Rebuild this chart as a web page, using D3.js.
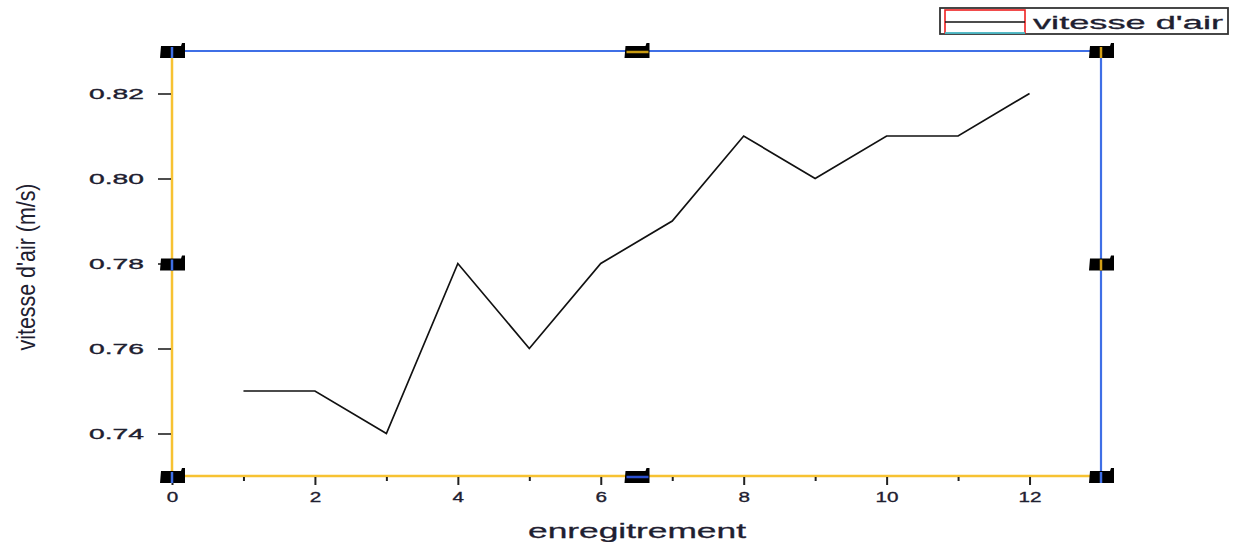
<!DOCTYPE html>
<html>
<head>
<meta charset="utf-8">
<script src="https://cdn.jsdelivr.net/npm/d3@7"></script>
<style>
  html, body { margin: 0; padding: 0; background: #fff; }
  svg { display: block; }
  text { font-family: "Liberation Sans", Arial, sans-serif; }
</style>
</head>
<body>
<svg id="chart" width="1238" height="542"></svg>
<script>
// Recorded air speed per measurement
const records = [1, 2, 3, 4, 5, 6, 7, 8, 9, 10, 11, 12];
const airSpeed = [0.75, 0.75, 0.74, 0.78, 0.76, 0.78, 0.79, 0.81, 0.80, 0.81, 0.81, 0.82];
const xTicks = [0, 2, 4, 6, 8, 10, 12];
const xMinorTicks = [1, 3, 5, 7, 9, 11];
const yTicks = [0.74, 0.76, 0.78, 0.80, 0.82];
const seriesName = "vitesse d'air";
const xTitle = "enregitrement";
const yTitle = "vitesse d'air (m/s)";

const svg = d3.select("#chart");
const plotLeft = 172, plotRight = 1101, plotTop = 51, plotBottom = 476;

const x = d3.scaleLinear().domain([0, 13]).range([plotLeft, plotRight]);
const y = d3.scaleLinear().domain([0.73, 0.83]).range([plotBottom, plotTop]);

const yellow = "#f7c232";
const blue = "#3f6fe6";
const ink = "#1e2030";

// frame: yellow bottom/left, blue top/right
svg.append("line").attr("x1", plotLeft).attr("x2", plotRight).attr("y1", plotTop).attr("y2", plotTop)
  .attr("stroke", blue).attr("stroke-width", 2.2);
svg.append("line").attr("x1", plotRight).attr("x2", plotRight).attr("y1", plotTop).attr("y2", plotBottom)
  .attr("stroke", blue).attr("stroke-width", 2.2);
svg.append("line").attr("x1", plotLeft).attr("x2", plotRight).attr("y1", plotBottom).attr("y2", plotBottom)
  .attr("stroke", yellow).attr("stroke-width", 2.5);
svg.append("line").attr("x1", plotLeft).attr("x2", plotLeft).attr("y1", plotTop).attr("y2", plotBottom)
  .attr("stroke", yellow).attr("stroke-width", 2.5);

// y axis ticks and labels
const yAxis = d3.axisLeft(y).tickValues(yTicks).tickSize(13).tickPadding(14)
  .tickFormat(d3.format(".2f"));
const gy = svg.append("g").attr("transform", `translate(${plotLeft - 1},0)`).call(yAxis);
gy.select(".domain").remove();
gy.selectAll(".tick line").attr("stroke", "#222").attr("stroke-width", 1.6);
gy.selectAll(".tick text")
  .attr("font-size", 15).attr("fill", ink)
  .attr("stroke", ink).attr("stroke-width", 0.35)
  .attr("textLength", 55).attr("lengthAdjust", "spacingAndGlyphs");

// x axis ticks and labels
const xAxis = d3.axisBottom(x).tickValues(xTicks).tickSize(8).tickPadding(6)
  .tickFormat(d3.format("d"));
const gx = svg.append("g").attr("transform", `translate(0,${plotBottom + 1})`).call(xAxis);
gx.select(".domain").remove();
gx.selectAll(".tick line").attr("stroke", "#222").attr("stroke-width", 2);
gx.selectAll(".tick").each(function(d) {
  d3.select(this).select("text")
    .attr("font-size", 15).attr("fill", ink)
    .attr("stroke", ink).attr("stroke-width", 0.35)
    .attr("textLength", String(d).length * 11.5).attr("lengthAdjust", "spacingAndGlyphs");
});
const gxm = svg.append("g").attr("transform", `translate(0,${plotBottom + 1})`)
  .call(d3.axisBottom(x).tickValues(xMinorTicks).tickSize(4).tickFormat(""));
gxm.select(".domain").remove();
gxm.selectAll(".tick line").attr("stroke", "#222").attr("stroke-width", 2);

// data line
const line = d3.line().x((d, i) => x(records[i])).y(d => y(d));
svg.append("path").datum(airSpeed)
  .attr("d", line).attr("fill", "none").attr("stroke", "#111").attr("stroke-width", 1.7);

// axis handles (black blocks at corners and midpoints)
const handles = [
  { cx: x(0), cy: y(0.83), c: blue, v: true },
  { cx: x(6.5), cy: y(0.83), c: "#c89a10", v: false },
  { cx: x(13), cy: y(0.83), c: "#d4a017", v: true },
  { cx: x(0), cy: y(0.78), c: blue, v: true },
  { cx: x(13), cy: y(0.78), c: "#d4a017", v: true },
  { cx: x(0), cy: y(0.73), c: blue, v: true },
  { cx: x(6.5), cy: y(0.73), c: "#2a4fd0", v: false },
  { cx: x(13), cy: y(0.73), c: blue, v: true }
];
const hg = svg.append("g");
handles.forEach(h => {
  hg.append("path")
    .attr("d", `M${h.cx - 12},${h.cy + 7} L${h.cx - 11},${h.cy - 5} L${h.cx + 9},${h.cy - 5} L${h.cx + 10},${h.cy - 8} L${h.cx + 13},${h.cy - 8} L${h.cx + 13},${h.cy + 7} Z`)
    .attr("fill", "#000");
  if (h.v) {
    hg.append("line").attr("x1", h.cx).attr("x2", h.cx)
      .attr("y1", h.cy - 4).attr("y2", h.cy + 7)
      .attr("stroke", h.c).attr("stroke-width", 2.5);
  } else {
    hg.append("line").attr("x1", h.cx - 10).attr("x2", h.cx + 12)
      .attr("y1", h.cy + 1).attr("y2", h.cy + 1)
      .attr("stroke", h.c).attr("stroke-width", 2.5);
  }
});

// axis titles
svg.append("text")
  .attr("x", 637).attr("y", 538).attr("text-anchor", "middle")
  .attr("font-size", 21).attr("fill", ink)
  .attr("stroke", ink).attr("stroke-width", 0.3)
  .attr("textLength", 218).attr("lengthAdjust", "spacingAndGlyphs")
  .text(xTitle);
svg.append("text")
  .attr("transform", `translate(35,267) rotate(-90)`)
  .attr("text-anchor", "middle")
  .attr("font-size", 25).attr("fill", ink)
  .attr("textLength", 167).attr("lengthAdjust", "spacingAndGlyphs")
  .text(yTitle);

// legend
const lg = svg.append("g");
lg.append("rect").attr("x", 940).attr("y", 8).attr("width", 288).attr("height", 26)
  .attr("fill", "#fff").attr("stroke", "#333").attr("stroke-width", 1.8);
lg.append("rect").attr("x", 945).attr("y", 10).attr("width", 80).attr("height", 23)
  .attr("fill", "none").attr("stroke", "#ee2020").attr("stroke-width", 1.6);
lg.append("line").attr("x1", 945).attr("x2", 1025).attr("y1", 33).attr("y2", 33)
  .attr("stroke", "#22e0f0").attr("stroke-width", 1.6);
lg.append("line").attr("x1", 945).attr("x2", 1025).attr("y1", 22).attr("y2", 22)
  .attr("stroke", "#111").attr("stroke-width", 1.5);
lg.append("text").attr("x", 1033).attr("y", 29)
  .attr("font-size", 19).attr("fill", ink)
  .attr("stroke", ink).attr("stroke-width", 0.3)
  .attr("textLength", 190).attr("lengthAdjust", "spacingAndGlyphs")
  .text(seriesName);
</script>
</body>
</html>
